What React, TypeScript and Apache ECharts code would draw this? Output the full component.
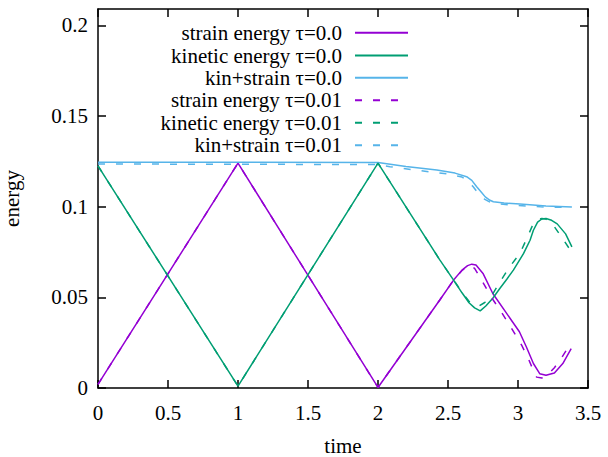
import React, { useEffect, useRef } from "react";
import * as echarts from "echarts";

const FONT = "Liberation Serif";

const names = [
  "strain energy τ=0.0",
  "kinetic energy τ=0.0",
  "kin+strain τ=0.0",
  "strain energy τ=0.01",
  "kinetic energy τ=0.01",
  "kin+strain τ=0.01",
];
const colors = ["#9400d3", "#009e73", "#56b4e9", "#9400d3", "#009e73", "#56b4e9"];

const xTicks = [0, 0.5, 1, 1.5, 2, 2.5, 3, 3.5];
const yTicks = [0, 0.05, 0.1, 0.15, 0.2];

const strain0: [number, number][] = [
  [0, 0.002], [1, 0.124], [2, 0.0003], [2.44, 0.0484], [2.54, 0.0595], [2.6, 0.065],
  [2.64, 0.0675], [2.67, 0.0683], [2.7, 0.0678], [2.75, 0.0632], [2.82, 0.0521],
  [2.92, 0.041], [3.01, 0.031], [3.06, 0.0226], [3.11, 0.0135], [3.155, 0.0079],
  [3.2, 0.007], [3.26, 0.0083], [3.32, 0.0135], [3.38, 0.0217],
];
const kinetic0: [number, number][] = [
  [0, 0.1225], [1, 0.001], [2, 0.124], [2.44, 0.0708], [2.54, 0.0595], [2.6, 0.0525],
  [2.65, 0.047], [2.69, 0.0442], [2.73, 0.0425], [2.77, 0.0452], [2.82, 0.0495],
  [2.87, 0.0549], [2.92, 0.06], [2.967, 0.065], [3.04, 0.0742], [3.086, 0.0815],
  [3.11, 0.087], [3.14, 0.0915], [3.17, 0.0932], [3.2, 0.0935], [3.24, 0.0925],
  [3.28, 0.0905], [3.34, 0.085], [3.385, 0.0778],
];
const total0: [number, number][] = [
  [0, 0.1245], [1, 0.1245], [2, 0.1243], [2.2, 0.1222], [2.42, 0.1202], [2.55, 0.1185],
  [2.633, 0.1165], [2.67, 0.1145], [2.705, 0.111], [2.74, 0.1078], [2.766, 0.1054],
  [2.8, 0.1035], [2.824, 0.1027], [2.9, 0.102], [3.014, 0.1014], [3.2, 0.1003],
  [3.385, 0.0998],
];
const strain1: [number, number][] = [
  [0, 0.002], [1, 0.124], [2, 0.0003], [2.44, 0.0484], [2.54, 0.0595], [2.6, 0.0648],
  [2.64, 0.0672], [2.66, 0.0676], [2.69, 0.066], [2.74, 0.0595], [2.81, 0.05],
  [2.88, 0.042], [2.955, 0.0328], [3.026, 0.0236], [3.074, 0.0162], [3.105, 0.0105],
  [3.133, 0.006], [3.17, 0.0055], [3.21, 0.007], [3.26, 0.0112], [3.3, 0.0153],
  [3.376, 0.0245],
];
const kinetic1: [number, number][] = [
  [0, 0.1225], [1, 0.001], [2, 0.124], [2.44, 0.0708], [2.54, 0.0595], [2.6, 0.0528],
  [2.65, 0.0478], [2.69, 0.0455], [2.72, 0.0452], [2.76, 0.047], [2.8, 0.0493],
  [2.871, 0.0585], [2.94, 0.0668], [3.014, 0.0742], [3.06, 0.082], [3.1, 0.089],
  [3.13, 0.0926], [3.17, 0.0935], [3.2, 0.0932], [3.25, 0.09], [3.3, 0.0845],
  [3.37, 0.0765],
];
const total1: [number, number][] = [
  [0, 0.1235], [1, 0.1234], [2, 0.1232], [2.086, 0.122], [2.37, 0.1192], [2.51, 0.118],
  [2.6, 0.1163], [2.633, 0.1147], [2.68, 0.111], [2.716, 0.1073], [2.76, 0.1042],
  [2.8, 0.1025], [2.824, 0.1018], [2.97, 0.1008], [3.16, 0.0999], [3.385, 0.0995],
];

const seriesData = [strain0, kinetic0, total0, strain1, kinetic1, total1];
const dashed = [false, false, false, true, true, true];

export default function App() {
  const ref = useRef<HTMLDivElement>(null);
  useEffect(() => {
    if (!ref.current) return;
    const chart = echarts.init(ref.current, undefined, { renderer: "svg" });
    const lineC = { color: "#000", width: 1.5 };
    const tick = { show: true, inside: true, length: 8, lineStyle: lineC };
    const labelStyle = { color: "#000", fontFamily: FONT, fontSize: 21 };
    const legendRows = [28.3, 51, 73.3, 95.7, 118.3, 140.7];
    chart.setOption({
      animation: false,
      backgroundColor: "#fff",
      textStyle: { fontFamily: FONT },
      grid: { left: 98, right: 20, top: 9, bottom: 69, containLabel: false, outerBoundsMode: "none" },
      legend: names.map((n, i) => ({
        data: [n],
        right: 199,
        top: legendRows[i] - 6,
        padding: 0,
        orient: "vertical",
        align: "right",
        itemWidth: 53,
        itemHeight: 14,
        selectedMode: false,
        itemStyle: { opacity: 0 },
        textStyle: { ...labelStyle, padding: [0, 8, 0, 0] },
      })),
      xAxis: [
        {
          type: "value", min: 0, max: 3.5, interval: 0.5, position: "bottom",
          axisLine: { show: true, onZero: false, lineStyle: lineC }, axisTick: { ...tick, customValues: xTicks },
          splitLine: { show: false },
          axisLabel: { ...labelStyle, margin: 14, customValues: xTicks },
          name: "time", nameLocation: "middle", nameGap: 47,
          nameTextStyle: { ...labelStyle, lineHeight: 21 },
        },
        {
          type: "value", min: 0, max: 3.5, interval: 0.5, position: "top",
          axisLine: { show: true, onZero: false, lineStyle: lineC }, axisTick: { ...tick, customValues: xTicks },
          splitLine: { show: false }, axisLabel: { show: false },
        },
      ],
      yAxis: [
        {
          type: "value", min: 0, max: 0.209, position: "left",
          axisLine: { show: true, onZero: false, lineStyle: lineC }, axisTick: { ...tick, customValues: yTicks },
          splitLine: { show: false },
          axisLabel: { ...labelStyle, margin: 10, customValues: yTicks, formatter: (v: number) => String(+v.toFixed(2)) },
          name: "energy", nameLocation: "middle", nameGap: 76, nameTextStyle: labelStyle,
        },
        {
          type: "value", min: 0, max: 0.209, position: "right",
          axisLine: { show: true, onZero: false, lineStyle: lineC }, axisTick: { ...tick, customValues: yTicks },
          splitLine: { show: false }, axisLabel: { show: false },
        },
      ],
      series: seriesData.map((d, i) => ({
        type: "line",
        name: names[i],
        xAxisIndex: 0,
        yAxisIndex: 0,
        data: d,
        symbol: "none",
        showSymbol: false,
        silent: true,
        color: colors[i],
        itemStyle: { color: colors[i] },
        lineStyle: { color: colors[i], width: 1.5, type: dashed[i] ? [7, 11] : "solid" },
        emphasis: { disabled: true },
      })),
    });
    return () => chart.dispose();
  }, []);
  return <div ref={ref} style={{ position: "fixed", left: 0, top: 0, width: 608, height: 457 }} />;
}
